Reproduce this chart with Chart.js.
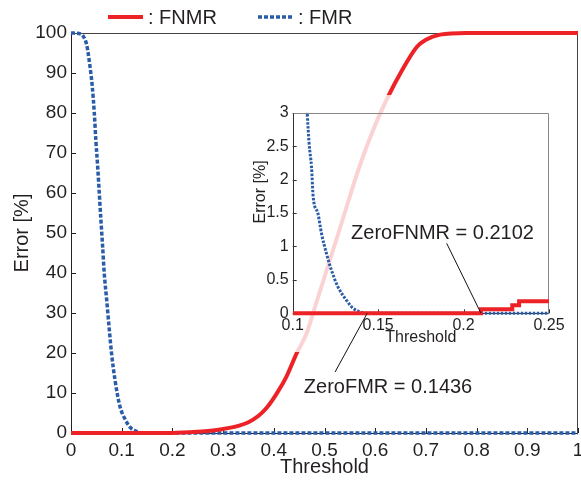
<!DOCTYPE html>
<html><head><meta charset="utf-8">
<script src="https://cdn.jsdelivr.net/npm/chart.js@4.4.1/dist/chart.umd.min.js"></script>
<style>
html,body{margin:0;padding:0;background:#fff;}
#wrap{position:relative;width:581px;height:481px;overflow:hidden;}
#main{position:absolute;left:0;top:0;}
#inset{position:absolute;left:245px;top:95px;}
</style></head><body>
<div id="wrap"><canvas id="main" width="581" height="481"></canvas><canvas id="inset" width="320" height="320"></canvas></div>
<script>
// ---- data ----
const fnmrX = [0, 0.1, 0.2, 0.25, 0.28, 0.3, 0.33, 0.35, 0.37, 0.386, 0.406, 0.425, 0.445, 0.465, 0.48, 0.5, 0.53, 0.57, 0.6, 0.627, 0.65, 0.682, 0.7, 0.728, 0.78, 0.85, 1.0];
const fnmrY = [0, 0, 0, 0.3, 0.65, 1.0, 1.8, 2.7, 4.3, 6.3, 9.9, 14.1, 19.9, 25, 31, 39, 51, 67, 77, 84.5, 90, 96.5, 98.3, 99.6, 100, 100, 100];
const fmrX = [0, 0.02, 0.025, 0.031, 0.0375, 0.042, 0.046, 0.049, 0.0526, 0.0558, 0.059, 0.0624, 0.0656, 0.0704, 0.075, 0.08, 0.0868, 0.0966, 0.1065, 0.116, 0.1296, 0.1436, 0.2, 0.5, 1.0];
const fmrY = [100, 99.7, 99, 97, 91.6, 86.6, 79.9, 73.25, 66.6, 59.9, 53.25, 46.6, 39.9, 33.25, 26.6, 19.9, 13.25, 6.6, 3.5, 1.5, 0.4, 0, 0, 0, 0];
// inset (zoomed) readings
const fnmrInsetX = [0.1, 0.2102, 0.2285, 0.2325, 0.25];
const fnmrInsetY = [0, 0.06, 0.12, 0.18, 0.18];
const fmrInsetX = [0.1078, 0.1085, 0.1096, 0.111, 0.112, 0.1148, 0.1168, 0.1197, 0.1226, 0.1264, 0.1313, 0.1351, 0.1385, 0.1436, 0.2, 0.25];
const fmrInsetY = [3.4, 3.0, 2.54, 2.19, 1.74, 1.49, 1.20, 0.90, 0.65, 0.40, 0.20, 0.08, 0.03, 0, 0, 0];
const zeroFNMR = 0.2102;
const zeroFMR = 0.1436;
// ticks
const mainXTicks = [0, 0.1, 0.2, 0.3, 0.4, 0.5, 0.6, 0.7, 0.8, 0.9, 1];
const mainXTickLabels = ['0', '0.1', '0.2', '0.3', '0.4', '0.5', '0.6', '0.7', '0.8', '0.9', '1'];
const mainYTicks = [0, 10, 20, 30, 40, 50, 60, 70, 80, 90, 100];
const mainYTickLabels = ['0', '10', '20', '30', '40', '50', '60', '70', '80', '90', '100'];
const insetXTicks = [0.1, 0.15, 0.2, 0.25];
const insetXTickLabels = ['0.1', '0.15', '0.2', '0.25'];
const insetYTicks = [0, 0.5, 1, 1.5, 2, 2.5, 3];
const insetYTickLabels = ['0', '0.5', '1', '1.5', '2', '2.5', '3'];

// ---- styles ----
const RED = '#EC2227';
const BLUE = '#2A5CAA';
const TXT = '#231f20';
const FONT = "'Liberation Sans', Arial, Helvetica, sans-serif";
Chart.defaults.font.family = FONT;
Chart.defaults.color = TXT;

const pts = (xs, ys) => xs.map((x, i) => ({x, y: ys[i]}));

function frame(opts) {
  return {
    id: 'frame',
    beforeDraw(chart) {
      if (opts.bg) {
        const c = chart.ctx; c.save(); c.fillStyle = opts.bg;
        c.fillRect(opts.bgRect[0], opts.bgRect[1], opts.bgRect[2], opts.bgRect[3]); c.restore();
      }
    },
    beforeDatasetsDraw(chart) {
      const {ctx, chartArea: a, scales: {x, y}} = chart;
      ctx.save();
      ctx.lineWidth = 1;
      ctx.strokeStyle = opts.tickColor;
      ctx.beginPath();
      x.ticks.forEach(t => { const p = Math.round(x.getPixelForValue(t.value)) + 0.5; ctx.moveTo(p, a.bottom); ctx.lineTo(p, a.bottom - opts.tickLen); });
      y.ticks.forEach(t => { const p = Math.round(y.getPixelForValue(t.value)) + 0.5; ctx.moveTo(a.left, p); ctx.lineTo(a.left + opts.tickLen, p); });
      ctx.stroke();
      const L = Math.round(a.left) + 0.5, R = Math.round(a.right) - 0.5, T = Math.round(a.top) + 0.5, B = Math.round(a.bottom) + 0.5;
      ctx.strokeStyle = opts.farColor;
      ctx.beginPath(); ctx.moveTo(L, T); ctx.lineTo(R, T); ctx.lineTo(R, B); ctx.stroke();
      ctx.strokeStyle = opts.axisColor;
      ctx.beginPath(); ctx.moveTo(L, T); ctx.lineTo(L, B); ctx.lineTo(R, B); ctx.stroke();
      ctx.restore();
    }
  };
}

const legendPlugin = {
  id: 'customLegend',
  afterDraw(chart) {
    const ctx = chart.ctx;
    const items = [{ds: chart.data.datasets[0], x0: 108, x1: 143, tx: 148}, {ds: chart.data.datasets[1], x0: 258, x1: 293, tx: 298}];
    ctx.save();
    items.forEach(it => {
      ctx.beginPath();
      ctx.strokeStyle = it.ds.borderColor;
      ctx.lineWidth = it.ds.borderWidth;
      ctx.setLineDash(it.ds.borderDash || []);
      ctx.moveTo(it.x0, 17); ctx.lineTo(it.x1, 17); ctx.stroke();
      ctx.setLineDash([]);
      ctx.fillStyle = TXT;
      ctx.font = '20px ' + FONT;
      ctx.textBaseline = 'middle';
      ctx.textAlign = 'left';
      ctx.fillText(': ' + it.ds.label, it.tx, 18);
    });
    ctx.restore();
  }
};

const tickSetter = (vals) => (s) => { s.ticks = vals.map(v => ({value: v})); };

new Chart(document.getElementById('main'), {
  type: 'line',
  data: {
    datasets: [
      {label: 'FNMR', data: pts(fnmrX, fnmrY), borderColor: RED, borderWidth: 4, cubicInterpolationMode: 'monotone', pointRadius: 0, clip: 4, borderCapStyle: 'butt'},
      {label: 'FMR', data: pts(fmrX, fmrY), borderColor: BLUE, borderWidth: 3.5, borderDash: [4, 2], cubicInterpolationMode: 'monotone', pointRadius: 0, clip: 4, borderCapStyle: 'butt'}
    ]
  },
  options: {
    responsive: false, animation: false, devicePixelRatio: 1,
    layout: {padding: {left: 0, right: 3, top: 33, bottom: 0}},
    plugins: {legend: {display: false}, tooltip: {enabled: false}},
    scales: {
      x: {
        type: 'linear', min: 0, max: 1,
        border: {display: false}, grid: {display: false, drawTicks: false},
        afterBuildTicks: tickSetter(mainXTicks),
        afterFit: s => { s.height = 48; s.paddingLeft = 0; s.paddingRight = 0; },
        ticks: {autoSkip: false, maxRotation: 0, padding: 6, font: {size: 19}, color: TXT, callback: (v, i) => mainXTickLabels[i]},
        title: {display: true, text: 'Threshold', font: {size: 20}, color: TXT, padding: {top: 0, bottom: 2}}
      },
      y: {
        min: 0, max: 100,
        border: {display: false}, grid: {display: false, drawTicks: false},
        afterBuildTicks: tickSetter(mainYTicks),
        afterFit: s => { s.width = 71; s.paddingTop = 0; s.paddingBottom = 0; },
        ticks: {autoSkip: false, padding: 4, font: {size: 19}, color: TXT, callback: (v, i) => mainYTickLabels[i]},
        title: {display: true, text: 'Error [%]', font: {size: 20}, color: TXT, padding: {top: 10.5, bottom: 0}}
      }
    }
  },
  plugins: [frame({tickColor: '#222', tickLen: 5, axisColor: '#222', farColor: '#444'}), legendPlugin]
});

const annotations = [
  {text: 'ZeroFNMR = ' + zeroFNMR.toFixed(4), target: zeroFNMR, tx: 0.1877, ty: 1.20, lx: 0.1901, ly: 1.047},
  {text: 'ZeroFMR = ' + zeroFMR.toFixed(4), target: zeroFMR, tx: 0.1558, ty: -1.11, lx: 0.1248, ly: -0.878}
];

const insetExtras = {
  id: 'insetExtras',
  afterDraw(chart) {
    const {ctx, chartArea: a, scales: {x, y}} = chart;
    ctx.save();
    ctx.fillStyle = TXT;
    ctx.font = '16px ' + FONT;
    ctx.textAlign = 'center'; ctx.textBaseline = 'middle';
    ctx.translate(15.3, a.top + (a.bottom - a.top) * 0.395);
    ctx.rotate(-Math.PI / 2);
    ctx.fillText('Error [%]', 0, 0);
    ctx.restore();
    ctx.save();
    annotations.forEach(an => {
      ctx.beginPath();
      ctx.strokeStyle = '#111'; ctx.lineWidth = 1;
      ctx.moveTo(x.getPixelForValue(an.lx), y.getPixelForValue(an.ly));
      ctx.lineTo(x.getPixelForValue(an.target), y.getPixelForValue(0));
      ctx.stroke();
      ctx.fillStyle = TXT;
      ctx.font = '20px ' + FONT;
      ctx.textAlign = 'center'; ctx.textBaseline = 'middle';
      ctx.fillText(an.text, x.getPixelForValue(an.tx), y.getPixelForValue(an.ty));
    });
    ctx.restore();
  }
};

const insetClip = {left: 0, top: 0, right: 0, bottom: 4};
new Chart(document.getElementById('inset'), {
  type: 'line',
  data: {
    datasets: [
      {label: 'FNMR', data: pts(fnmrInsetX, fnmrInsetY), borderColor: RED, borderWidth: 4, stepped: true, pointRadius: 0, clip: insetClip},
      {label: 'FMR', data: pts(fmrInsetX, fmrInsetY), borderColor: BLUE, borderWidth: 3, borderDash: [2.5, 1.5], cubicInterpolationMode: 'monotone', pointRadius: 0, clip: insetClip, borderCapStyle: 'butt'}
    ]
  },
  options: {
    responsive: false, animation: false, devicePixelRatio: 1,
    layout: {padding: {left: 0, right: 16, top: 17.7, bottom: 0}},
    plugins: {legend: {display: false}, tooltip: {enabled: false}},
    scales: {
      x: {
        type: 'linear', min: 0.1, max: 0.25,
        border: {display: false}, grid: {display: false, drawTicks: false},
        afterBuildTicks: tickSetter(insetXTicks),
        afterFit: s => { s.height = 101.7; s.paddingLeft = 0; s.paddingRight = 0; },
        ticks: {autoSkip: false, maxRotation: 0, padding: 3, font: {size: 16}, color: TXT, callback: (v, i) => insetXTickLabels[i]},
        title: {display: true, text: 'Threshold', font: {size: 16}, color: TXT, padding: {top: 0, bottom: 68}}
      },
      y: {
        min: 0, max: 3,
        border: {display: false}, grid: {display: false, drawTicks: false},
        afterBuildTicks: tickSetter(insetYTicks),
        afterFit: s => { s.width = 47.7; s.paddingTop = 0; s.paddingBottom = 0; },
        ticks: {autoSkip: false, padding: 4, font: {size: 16}, color: TXT, callback: (v, i) => insetYTickLabels[i]}
      }
    }
  },
  plugins: [frame({bg: 'rgba(255,255,255,0.8)', bgRect: [0, 0, 320, 257], tickColor: '#333', tickLen: 4, axisColor: '#333', farColor: '#888'}), insetExtras]
});
</script>
</body></html>
